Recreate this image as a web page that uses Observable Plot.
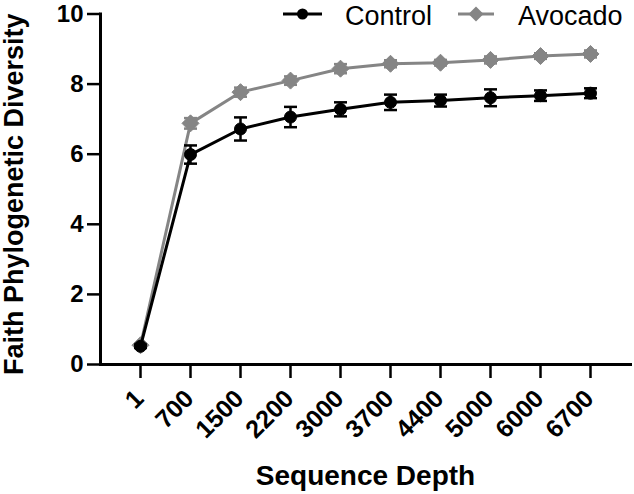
<!DOCTYPE html>
<html>
<head>
<meta charset="utf-8">
<script src="https://cdn.jsdelivr.net/npm/d3@7"></script>
<script src="https://cdn.jsdelivr.net/npm/@observablehq/plot@0.6"></script>
<style>
  html, body { margin: 0; padding: 0; background: #fff; }
  #wrap { position: relative; width: 634px; height: 494px; font-family: "Liberation Sans", Arial, Helvetica, sans-serif; color: #000; }
  #legend { position: absolute; top: 0; left: 0; pointer-events: none; }
</style>
</head>
<body>
<div id="wrap"><div id="chart"></div><svg id="legend" width="634" height="32"></svg></div>
<script>
// ---- data ----
const depths = ["1", "700", "1500", "2200", "3000", "3700", "4400", "5000", "6000", "6700"];
const controlMean = [0.52, 5.99, 6.72, 7.06, 7.28, 7.48, 7.53, 7.61, 7.67, 7.74];
const controlErr  = [0.05, 0.26, 0.33, 0.29, 0.20, 0.22, 0.17, 0.24, 0.15, 0.14];
const avocadoMean = [0.55, 6.88, 7.77, 8.10, 8.44, 8.58, 8.61, 8.69, 8.80, 8.86];
const avocadoErr  = [0.05, 0.15, 0.13, 0.12, 0.13, 0.10, 0.08, 0.10, 0.08, 0.10];
const yTicks = [0, 2, 4, 6, 8, 10];
const seriesNames = ["Control", "Avocado"];
const seriesColors = ["#000000", "#858585"];
const xTitle = "Sequence Depth";
const yTitle = "Faith Phylogenetic Diversity";

const FONT = '"Liberation Sans", Arial, Helvetica, sans-serif';

const control = depths.map((d, i) => ({depth: d, mean: controlMean[i], err: controlErr[i]}));
const avocado = depths.map((d, i) => ({depth: d, mean: avocadoMean[i], err: avocadoErr[i]}));
const caps = arr => arr.flatMap(d => [{depth: d.depth, v: d.mean - d.err}, {depth: d.depth, v: d.mean + d.err}]);

const capSymbol = {draw(ctx) { ctx.moveTo(-6.5, 0); ctx.lineTo(6.5, 0); }};
const diamondSymbol = {draw(ctx) { const h = 8.5; ctx.moveTo(0, -h); ctx.lineTo(h, 0); ctx.lineTo(0, h); ctx.lineTo(-h, 0); ctx.closePath(); }};

function seriesMarks(data, color, symbol, r) {
  return [
    Plot.line(data, {x: "depth", y: "mean", stroke: color, strokeWidth: 3}),
    Plot.ruleX(data, {x: "depth", y1: d => d.mean - d.err, y2: d => d.mean + d.err, stroke: color, strokeWidth: 2.5}),
    Plot.dot(caps(data), {x: "depth", y: "v", symbol: capSymbol, stroke: color, strokeWidth: 2.5, fill: "none"}),
    Plot.dot(data, {x: "depth", y: "mean", symbol, r, fill: color, stroke: color, strokeWidth: 1})
  ];
}

const chart = Plot.plot({
  width: 634,
  height: 494,
  marginLeft: 100,
  marginRight: 4,
  marginTop: 13.5,
  marginBottom: 130,
  style: {fontFamily: FONT, background: "#fff", color: "#000", overflow: "visible"},
  x: {type: "point", domain: depths, padding: 0.7, axis: null},
  y: {domain: [0, 10], axis: null},
  marks: [
    Plot.axisY({ticks: yTicks, tickSize: 13, tickPadding: 4, fontSize: 24, fontWeight: "bold", strokeWidth: 2.5, label: null}),
    Plot.axisX({tickSize: 14, tickFormat: () => "", strokeWidth: 2.5, label: null}),
    Plot.frame({anchor: "left", strokeWidth: 3}),
    Plot.frame({anchor: "bottom", strokeWidth: 3}),
    Plot.text(depths, {x: d => d, frameAnchor: "bottom", dy: 30, dx: -1, rotate: -45, textAnchor: "end", lineAnchor: "middle", fontSize: 25, fontWeight: "bold", fill: "#000"}),
    Plot.text([xTitle], {frameAnchor: "bottom", dy: 112, textAnchor: "middle", lineAnchor: "middle", fontSize: 28, fontWeight: "bold", fill: "#000"}),
    Plot.text([yTitle], {frameAnchor: "left", dx: -86, dy: 5, rotate: -90, textAnchor: "middle", lineAnchor: "middle", fontSize: 27, fontWeight: "bold", fill: "#000"}),
    ...seriesMarks(avocado, seriesColors[1], diamondSymbol, 6),
    ...seriesMarks(control, seriesColors[0], "circle", 6)
  ]
});
document.getElementById("chart").appendChild(chart);

// ---- legend ----
const lg = d3.select("#legend");
const items = [
  {name: seriesNames[0], color: seriesColors[0], x0: 283, x1: 322, sym: "circle", tx: 345},
  {name: seriesNames[1], color: seriesColors[1], x0: 458, x1: 494, sym: "diamond", tx: 518}
];
const ly = 14;
for (const it of items) {
  lg.append("line").attr("x1", it.x0).attr("x2", it.x1).attr("y1", ly).attr("y2", ly)
    .attr("stroke", it.color).attr("stroke-width", 3);
  const cx = (it.x0 + it.x1) / 2;
  if (it.sym === "circle") {
    lg.append("circle").attr("cx", cx).attr("cy", ly).attr("r", 5.5).attr("fill", it.color);
  } else {
    const h = 7.5;
    lg.append("path").attr("d", `M${cx},${ly - h}L${cx + h},${ly}L${cx},${ly + h}L${cx - h},${ly}Z`).attr("fill", it.color);
  }
  lg.append("text").attr("x", it.tx).attr("y", 25).attr("font-family", FONT).attr("font-size", 27)
    .attr("fill", "#000").text(it.name);
}
</script>
</body>
</html>
